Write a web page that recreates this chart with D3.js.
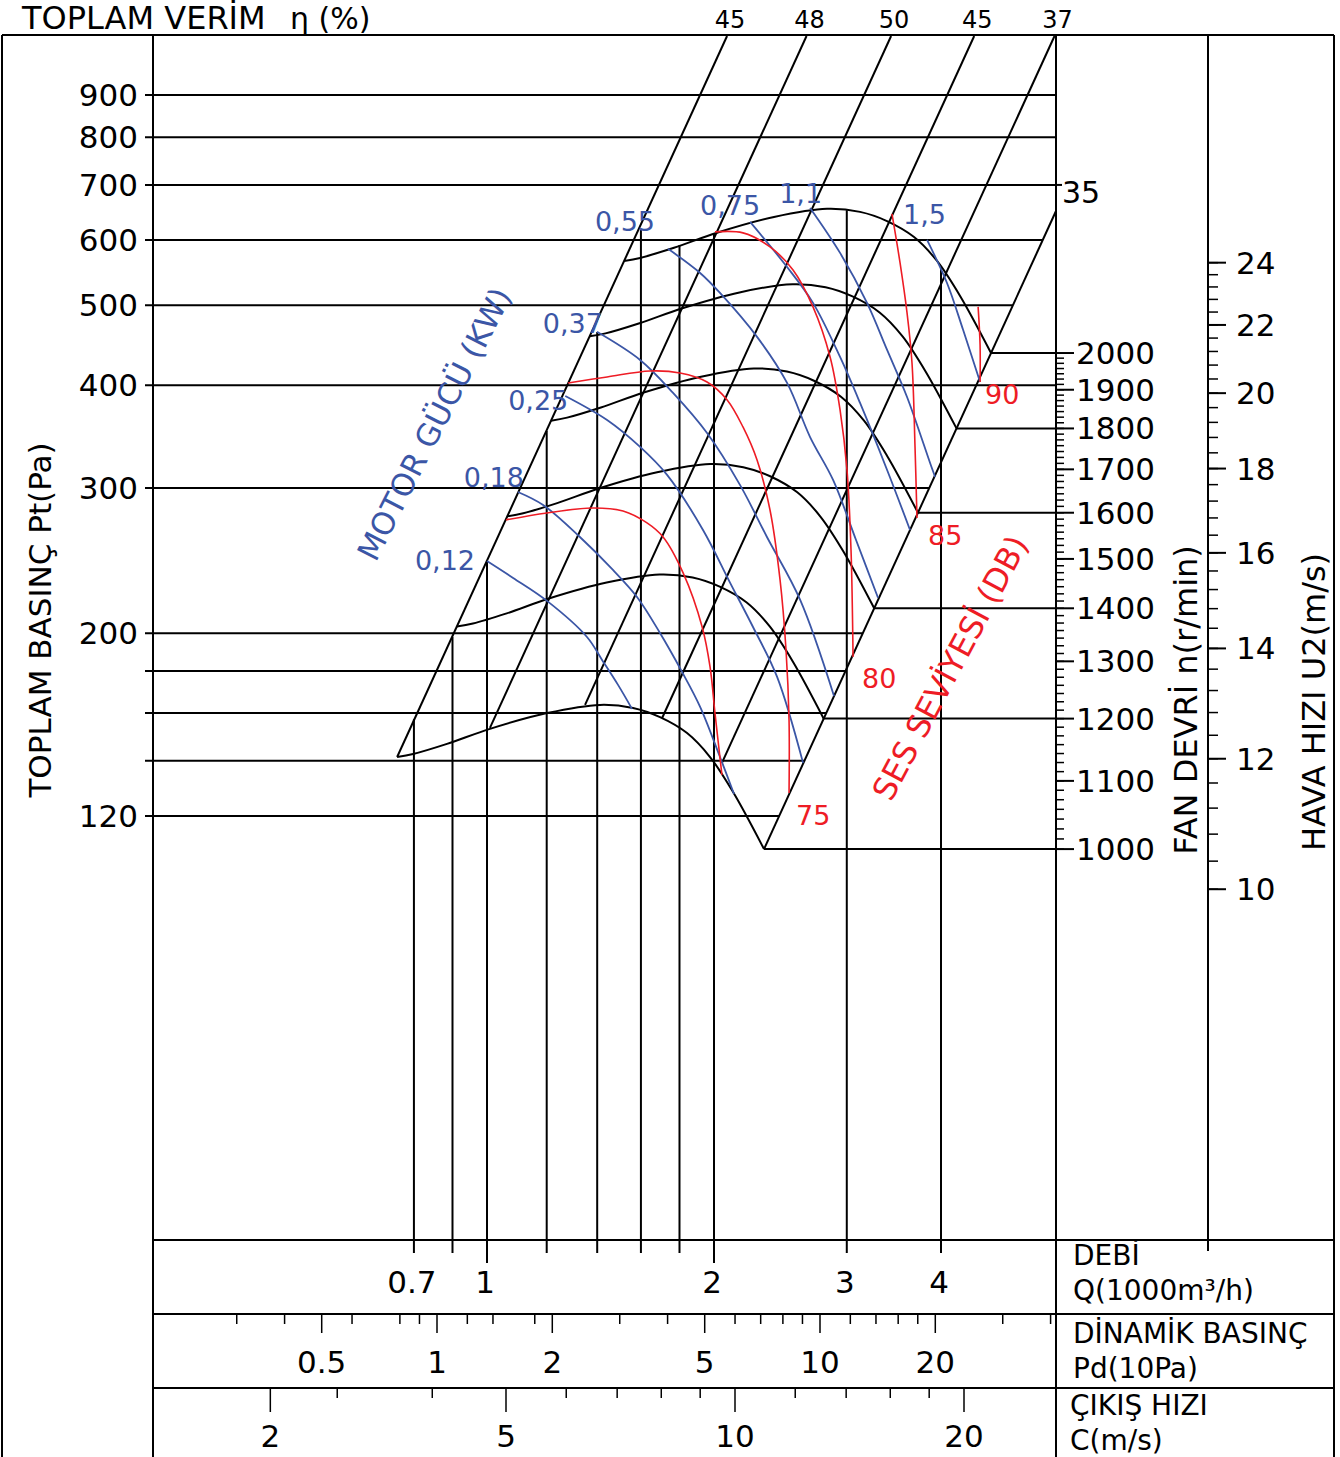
<!DOCTYPE html>
<html>
<head>
<meta charset="utf-8">
<script src="https://cdn.jsdelivr.net/npm/d3@7"></script>
<style>
body{margin:0;background:#fff}
svg{display:block}
text{font-family:"DejaVu Sans",Verdana,sans-serif}
</style>
</head>
<body>
<div id="chart"></div>
<script>
// ---- data ----
var pressureTicks = [900,800,700,600,500,400,300,200,120];
var pressureLines = [900,800,700,600,500,400,300,200,180,160,140,120];
var pressureToAxis = [900,800,700,400];

var flowLines   = [0.8,0.9,1,1.2,1.4,1.6,1.8,2,3,4];
var flowLineTop = [157.3,197.9,244,352,464,617,592,611,652,557];
var flowLongTicks = [1,2];
var flowLabelAt   = [0.8,1,2,3,4];
var flowLabelText = ["0.7","1","2","3","4"];

var dynMajor = [0.5,1,2,5,10,20];
var dynMinor = [0.3,0.4,0.6,0.8,0.9,1.2,1.4,1.8,3,4,6,7,8,9,12,14,16,18,30,40];

var velMajor     = [2.45,5,10,20];
var velMajorText = ["2","5","10","20"];
var velMinor     = [3,4,6,7,8,9,12,14,16,18];

var rpmLabels = [1000,1100,1200,1300,1400,1500,1600,1700,1800,1900,2000];
var u2Labels  = [10,12,14,16,18,20,22,24];

// constant efficiency lines (%), anchored on the 1000 r/min curve
var effValues = [45,48,50,45,37,35];
var effBaseQ  = [0.760,1.009,1.349,1.707,2.049,2.330];
var effBaseP  = [141.5,153.5,163.7,157.8,139.2,109.4];

// fan curves Q (1000 m3/h), Pt (Pa)
var fanRpm = [1000,1200,1400,1600,1800,2000];
var fanQ1000 = [0.760,0.798,0.885,1.009,1.201,1.412,1.562,1.696,1.842,1.976,2.120,2.330];
var fanP1000 = [141.5,142.7,146.8,153.1,160.0,163.7,162.3,158.2,151.3,141.5,128.3,109.4];
var fanQ1200 = [0.912,0.958,1.062,1.211,1.441,1.694,1.874,2.035,2.210,2.371,2.544,2.796];
var fanP1200 = [203.8,205.5,211.4,220.5,230.4,235.7,233.7,227.8,217.9,203.8,184.8,157.5];
var fanQ1400 = [1.064,1.117,1.239,1.413,1.681,1.977,2.187,2.374,2.579,2.766,2.968,3.262];
var fanP1400 = [277.3,279.7,287.7,300.1,313.6,320.9,318.1,310.1,296.5,277.3,251.5,214.4];
var fanQ1600 = [1.216,1.277,1.416,1.614,1.922,2.259,2.499,2.714,2.947,3.162,3.392,3.728];
var fanP1600 = [362.2,365.3,375.8,391.9,409.6,419.1,415.5,405.0,387.3,362.2,328.4,280.1];
var fanQ1800 = [1.368,1.436,1.593,1.816,2.162,2.542,2.812,3.053,3.316,3.557,3.816,4.194];
var fanP1800 = [458.5,462.3,475.6,496.0,518.4,530.4,525.9,512.6,490.2,458.5,415.7,354.5];
var fanQ2000 = [1.520,1.596,1.770,2.018,2.402,2.824,3.124,3.392,3.684,3.952,4.240,4.660];
var fanP2000 = [566.0,570.8,587.2,612.4,640.0,654.8,649.2,632.8,605.2,566.0,513.2,437.6];

// motor power lines (kW)
var powerText = ["0,12","0,18","0,25","0,37","0,55","0,75","1,1","1,5"];
var power012 = [[1.000,244.7],[1.083,233.4],[1.201,218.9],[1.357,197.9],[1.421,185.6],[1.492,173.1],[1.557,161.9]];
var power018 = [[1.099,296.8],[1.187,286.2],[1.328,261.7],[1.469,238.7],[1.581,221.3],[1.696,200.1],[1.814,179.5],[1.917,162.8],[2.037,141.5],[2.126,127.6]];
var power025 = [[1.270,388.1],[1.443,362.9],[1.596,336.6],[1.733,311.3],[1.934,266.9],[2.101,230.2],[2.253,203.5],[2.425,177.0],[2.625,139.2]];
var power037 = [[1.399,464.3],[1.596,429.2],[1.765,391.4],[1.958,349.9],[2.165,302.7],[2.351,261.7],[2.602,219.5],[2.885,167.8]];
var power055 = [[1.738,585.5],[1.917,547.3],[2.037,517.6],[2.281,457.8],[2.500,402.5],[2.682,346.0],[2.877,306.9],[3.086,259.5],[3.300,220.8]];
var power075 = [[2.233,631.2],[2.500,556.5],[2.706,503.4],[2.939,432.8],[3.124,380.6],[3.393,315.6],[3.639,266.9]];
var power110 = [[2.682,656.4],[2.939,578.9],[3.191,503.4],[3.393,441.4],[3.606,387.0],[3.869,321.8],[3.929,309.5]];
var power150 = [[3.833,600.3],[4.074,532.2],[4.279,466.9],[4.507,403.6]];

// noise level lines (dB)
var noiseText = ["","75","80","85","90"];
var noise70 = [[1.060,274.5],[1.201,279.9],[1.382,283.8],[1.515,281.4],[1.630,272.2],[1.712,261.7],[1.820,236.7],[1.929,203.5],[1.976,182.0],[2.006,160.0],[2.049,134.6]];
var noise75 = [[1.281,402.5],[1.443,409.3],[1.645,416.2],[1.803,413.9],[1.958,403.6],[2.082,383.8],[2.185,355.9],[2.281,324.5],[2.373,282.2],[2.447,232.1],[2.492,190.8],[2.515,157.0],[2.515,128.0]];
var noise80 = [[2.006,613.9],[2.185,612.2],[2.373,588.7],[2.546,551.9],[2.706,497.8],[2.851,432.8],[2.939,373.3],[3.002,315.6],[3.039,252.4],[3.058,187.2]];
var noise85 = [[3.444,645.4],[3.530,562.8],[3.606,489.5],[3.661,425.6],[3.695,336.6],[3.717,276.0]];
var noise90 = [[4.480,497.8],[4.507,447.6],[4.507,403.6]];

var impellerD = 0.202; // m, for tip speed scale

// ---- layout ----
var W = 1340, H = 1457;
var frame = {left:2, axis:153, right:1056, u2:1208, outer:1334, top:35, qBand:1240, pdBand:1314, cBand:1388};
var blue = "#3b56a6", red = "#ee1c25";
var powerLabelOffset = [[-12,9],[6,-5],[3,14],[6,1],[-13,-18],[10,-7],[12,-5],[19,-16]];
var noiseLabelOffset = [[0,0],[7,32],[9,31],[11,27],[5,22]];

var svg = d3.select('#chart').append('svg')
	.attr("width", W)
	.attr("height", H);

svg.append("rect")
	.attr("width", "100%")
	.attr("height", "100%")
	.attr("fill", "#ffffff");

var x = d3.scaleLog().domain([1,2]).range([487,714]);
var y = d3.scaleLog().domain([120,900]).range([816,95]);
var pdX = d3.scaleLog().domain([1,10]).range([437,820]);
var cX = d3.scaleLog().domain([10,20]).range([735,964]);
var pEnd1000 = fanP1000[fanP1000.length-1];
var rpmY = d3.scaleLog().domain([1000,2000]).range([y(pEnd1000), y(pEnd1000*4)]);
function rpmAt(u){ return u*60/(Math.PI*impellerD); }

var g = svg.append("g");

function seg(x1,y1,x2,y2,color,w){
	g.append("line")
		.attr("x1",x1).attr("y1",y1).attr("x2",x2).attr("y2",y2)
		.style("stroke", color || "#000")
		.style("stroke-width", w || 2);
}
function label(txt,tx,ty,size,anchor,color){
	return svg.append("text")
		.attr("x",tx).attr("y",ty)
		.attr("text-anchor", anchor || "start")
		.style("font-size", size + "px")
		.style("fill", color || "#000")
		.text(txt);
}

// frame
seg(frame.left, frame.top, frame.outer, frame.top);
seg(frame.left, frame.top, frame.left, H);
seg(frame.outer, frame.top, frame.outer, H);
seg(frame.axis, frame.top, frame.axis, H);
seg(frame.right, frame.top, frame.right, H);
seg(frame.u2, frame.top, frame.u2, 1251);
[frame.qBand, frame.pdBand, frame.cBand].forEach(function(b){ seg(frame.axis, b, frame.outer, b); });

// pressure grid lines, ending on the 35% boundary unless they run to the axis
var bQ = effBaseQ[5], bP = effBaseP[5];
pressureLines.forEach(function(p){
	var xe = frame.right;
	if (pressureToAxis.indexOf(p) < 0) {
		xe = Math.min(x(bQ*Math.sqrt(p/bP)), frame.right);
	}
	seg(frame.axis-8, y(p), xe, y(p));
});
pressureTicks.forEach(function(p){
	label(p, 138, y(p)+11, 31, "end");
});

// flow verticals
flowLines.forEach(function(q,i){
	var bottom = flowLongTicks.indexOf(q) >= 0 ? frame.qBand+23 : frame.qBand+13;
	seg(x(q), y(flowLineTop[i]), x(q), bottom);
});
flowLabelAt.forEach(function(q,i){
	label(flowLabelText[i], x(q)-2, 1293, 31, "middle");
});

// efficiency diagonals (P ~ Q^2)
var pTop = y.invert(frame.top+1);
effValues.forEach(function(v,i){
	var q0 = effBaseQ[i], p0 = effBaseP[i];
	var q1 = q0*Math.sqrt(pTop/p0), p1 = pTop;
	var clipped = false;
	if (x(q1) > frame.right) {
		q1 = x.invert(frame.right);
		p1 = p0*Math.pow(q1/q0,2);
		clipped = true;
	}
	seg(x(q0), y(p0), x(q1), y(p1));
	if (clipped) {
		seg(frame.right, y(700), frame.right+6, y(700));
		label(v, frame.right+6, y(p1)-8, 30, "start");
	} else {
		label(v, x(q1)+3, 28, 24, "middle");
	}
});

// fan curves
var curveLine = d3.line()
	.x(function(d){ return x(d[0]); })
	.y(function(d){ return y(d[1]); })
	.curve(d3.curveCatmullRom.alpha(0.5));

var fanQ = [fanQ1000,fanQ1200,fanQ1400,fanQ1600,fanQ1800,fanQ2000];
var fanP = [fanP1000,fanP1200,fanP1400,fanP1600,fanP1800,fanP2000];
fanRpm.forEach(function(n,i){
	var pts = fanQ[i].map(function(q,j){ return [q, fanP[i][j]]; });
	g.append("path")
		.attr("d", curveLine(pts))
		.style("fill","none").style("stroke","#000").style("stroke-width",2);
	var last = pts[pts.length-1];
	seg(x(last[0]), rpmY(n), frame.right, rpmY(n));
});

// rpm axis
d3.range(1000, 2000, 100/7).forEach(function(n){
	seg(frame.right, rpmY(n), frame.right+8, rpmY(n), "#000", 1.5);
});
rpmLabels.forEach(function(n){
	seg(frame.right, rpmY(n), frame.right+18, rpmY(n));
	label(n, frame.right+20, rpmY(n)+11, 31, "start");
});

// tip speed axis
d3.range(10, 24.01, 0.4).forEach(function(u){
	seg(frame.u2, rpmY(rpmAt(u)), frame.u2+10, rpmY(rpmAt(u)), "#000", 1.5);
});
u2Labels.forEach(function(u){
	seg(frame.u2, rpmY(rpmAt(u)), frame.u2+18, rpmY(rpmAt(u)));
	label(u, frame.u2+28, rpmY(rpmAt(u))+11, 31, "start");
});

// power lines
var powers = [power012,power018,power025,power037,power055,power075,power110,power150];
powers.forEach(function(pts,i){
	g.append("path")
		.attr("d", curveLine(pts))
		.style("fill","none").style("stroke",blue).style("stroke-width",1.8);
	var o = powerLabelOffset[i];
	label(powerText[i], x(pts[0][0])+o[0], y(pts[0][1])+o[1], 27, "end", blue);
});

// noise lines
var noises = [noise70,noise75,noise80,noise85,noise90];
noises.forEach(function(pts,i){
	g.append("path")
		.attr("d", curveLine(pts))
		.style("fill","none").style("stroke",red).style("stroke-width",1.6);
	if (noiseText[i]) {
		var e = pts[pts.length-1], o = noiseLabelOffset[i];
		label(noiseText[i], x(e[0])+o[0], y(e[1])+o[1], 27, "start", red);
	}
});

// bottom scales
dynMinor.forEach(function(v){ seg(pdX(v), frame.pdBand, pdX(v), frame.pdBand+10, "#000", 1.5); });
dynMajor.forEach(function(v){
	seg(pdX(v), frame.pdBand, pdX(v), frame.pdBand+19, "#000", 1.5);
	label(v, pdX(v), 1373, 31, "middle");
});
velMinor.forEach(function(v){ seg(cX(v), frame.cBand, cX(v), frame.cBand+10, "#000", 1.5); });
velMajor.forEach(function(v,i){
	seg(cX(v), frame.cBand, cX(v), frame.cBand+24, "#000", 1.5);
	label(velMajorText[i], cX(v), 1447, 31, "middle");
});

// titles
label("TOPLAM VERİM", 22, 29, 32, "start");
label("η (%)", 290, 29, 30, "start");
label("DEBİ", 1073, 1265, 28, "start");
label("Q(1000m³/h)", 1073, 1300, 28, "start");
label("DİNAMİK BASINÇ", 1073, 1343, 28, "start");
label("Pd(10Pa)", 1073, 1378, 28, "start");
label("ÇIKIŞ HIZI", 1070, 1415, 28, "start");
label("C(m/s)", 1070, 1450, 28, "start");

function rotated(txt, cx, cy, angle, size, color){
	svg.append("text")
		.attr("transform", "translate(" + cx + "," + cy + ") rotate(" + angle + ")")
		.attr("text-anchor", "middle")
		.style("font-size", size + "px")
		.style("fill", color || "#000")
		.text(txt);
}
rotated("TOPLAM BASINÇ Pt(Pa)", 51, 620, -90, 31);
rotated("FAN DEVRİ n(r/min)", 1197, 700, -90, 32);
rotated("HAVA HIZI U2(m/s)", 1325, 702, -90, 32);
rotated("MOTOR GÜCÜ (KW)", 444, 429, -63, 31, blue);
rotated("SES SEVİYESİ (DB)", 960, 673, -62, 32, red);
</script>
</body>
</html>
